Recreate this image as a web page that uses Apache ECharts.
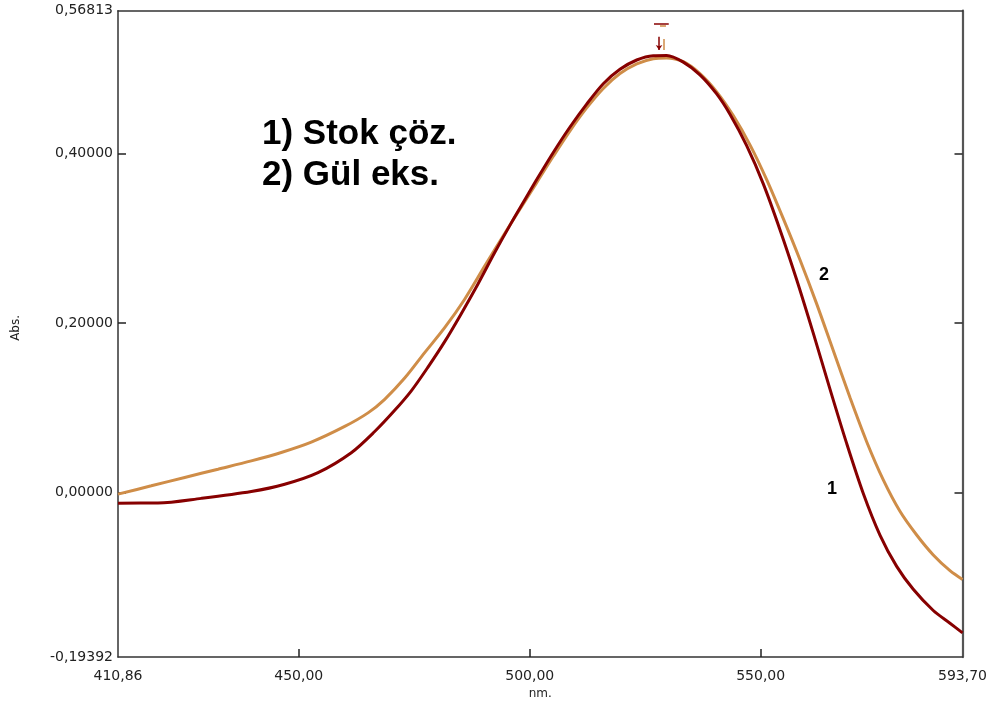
<!DOCTYPE html>
<html>
<head>
<meta charset="utf-8">
<script src="https://cdn.jsdelivr.net/npm/echarts@6/dist/echarts.min.js"></script>
<style>
  html, body { margin: 0; padding: 0; background: #fff; }
  #chart { width: 992px; height: 705px; }
</style>
</head>
<body>
<div id="chart"></div>
<script>
// Absorbance spectra: 1) stock solution, 2) rose extract
const wavelength1 = [410.86, 419.52, 428.89, 439.72, 446.95, 454.16, 461.37, 466.44, 470.77, 474.36,
  477.98, 481.59, 485.18, 488.80, 492.42, 496.01, 498.91, 501.51, 505.10, 508.72,
  512.33, 515.93, 519.54, 523.16, 526.75, 529.65, 533.25, 536.86, 540.48, 543.36,
  546.97, 550.57, 554.18, 557.80, 561.39, 565.01, 568.62, 572.22, 575.83, 579.45,
  583.04, 587.37, 590.99, 593.70];
const absStock = [-0.0124, -0.0122, -0.0068, 0.0012, 0.0098, 0.0235, 0.0470, 0.0720, 0.0970, 0.1200,
  0.1480, 0.1780, 0.2110, 0.2460, 0.2830, 0.3180, 0.3450, 0.3690, 0.4010, 0.4310,
  0.4580, 0.4820, 0.4990, 0.5100, 0.5150, 0.5153, 0.5075, 0.4925, 0.4700, 0.4460,
  0.4090, 0.3640, 0.3100, 0.2510, 0.1880, 0.1220, 0.0580, -0.0010, -0.0500, -0.0870,
  -0.1140, -0.1390, -0.1540, -0.1653];

const wavelength2 = [410.86, 418.07, 425.30, 432.51, 439.72, 446.21, 452.71, 459.94, 464.99, 468.60,
  472.93, 477.26, 481.59, 485.92, 490.25, 494.58, 498.91, 501.51, 505.10, 508.72,
  512.33, 515.93, 519.54, 523.16, 526.75, 529.65, 533.25, 536.86, 540.48, 544.07,
  547.69, 551.30, 554.90, 558.51, 562.13, 565.72, 569.34, 572.95, 576.55, 580.16,
  583.78, 587.37, 590.99, 593.70];
const absRose = [-0.0018, 0.0080, 0.0179, 0.0276, 0.0374, 0.0473, 0.0595, 0.0780, 0.0940, 0.1100,
  0.1350, 0.1650, 0.1944, 0.2280, 0.2670, 0.3055, 0.3430, 0.3655, 0.3965, 0.4265,
  0.4535, 0.4765, 0.4940, 0.5055, 0.5115, 0.5125, 0.5080, 0.4940, 0.4725, 0.4445,
  0.4100, 0.3690, 0.3230, 0.2745, 0.2225, 0.1675, 0.1120, 0.0600, 0.0150, -0.0220,
  -0.0500, -0.0735, -0.0920, -0.1024];

// Axis range and tick labels
const xMin = 410.86, xMax = 593.70;
const yMin = -0.19392, yMax = 0.56813;
const xTickLabels = [410.86, 450, 500, 550, 593.70];
const xTicks = [450, 500, 550];
const yTickLabels = [-0.19392, 0, 0.2, 0.4, 0.56813];
const yTicks = [0, 0.2, 0.4];

// Peak pick markers (wavelength, absorbance)
const peakStock = { x: 528.0, top: 0.5375, bottom: 0.5219, flagLeft: 526.9, flagRight: 530.1, flagY: 0.5525 };
const peakRose = { x: 529.1, top: 0.5348, bottom: 0.5219, flagLeft: 528.2, flagRight: 529.5, flagY: 0.5501 };

const redColor = '#870000';
const orangeColor = '#CF8D48';
const labelFont = 'DejaVu Sans';
const noteFont = '"Liberation Sans", Arial, sans-serif';

const zip = (xs, ys) => xs.map((x, i) => [x, ys[i]]);
const comma = (v, d) => v.toFixed(d).replace('.', ',');

function peakLines(p) {
  return [
    [{ coord: [p.x, p.top] }, { coord: [p.x, p.bottom] }],
    [{ coord: [p.flagLeft, p.flagY], symbol: 'none' }, { coord: [p.flagRight, p.flagY], symbol: 'none' }]
  ];
}

const chart = echarts.init(document.getElementById('chart'), null, { renderer: 'canvas' });

const frameLine = { show: true, onZero: false, lineStyle: { color: '#333', width: 1.5 } };
const tickStyle = { color: '#222', width: 1.5 };

chart.setOption({
  animation: false,
  backgroundColor: '#fff',
  grid: { left: 118, right: 29.5, top: 10.7, bottom: 46.7, containLabel: false },
  xAxis: [
    {
      type: 'value', position: 'bottom', min: xMin, max: xMax,
      name: 'nm.', nameLocation: 'middle', nameGap: 30,
      nameTextStyle: { fontFamily: labelFont, fontSize: 12, color: '#222' },
      axisLine: frameLine,
      axisTick: { show: true, inside: true, length: 8, customValues: xTicks, lineStyle: tickStyle },
      axisLabel: {
        customValues: xTickLabels, margin: 12,
        fontFamily: labelFont, fontSize: 14, color: '#222',
        formatter: v => comma(v, 2)
      },
      splitLine: { show: false }
    },
    {
      type: 'value', position: 'top', min: xMin, max: xMax,
      axisLine: frameLine, axisTick: { show: false }, axisLabel: { show: false }, splitLine: { show: false }
    }
  ],
  yAxis: [
    {
      type: 'value', position: 'left', min: yMin, max: yMax,
      name: 'Abs.', nameLocation: 'middle', nameGap: 96, nameRotate: 90,
      nameTextStyle: { fontFamily: labelFont, fontSize: 12, color: '#222', padding: [0, 0, 0, 12] },
      axisLine: frameLine,
      axisTick: { show: true, inside: true, length: 8, customValues: yTicks, lineStyle: tickStyle },
      axisLabel: {
        customValues: yTickLabels, margin: 5,
        fontFamily: labelFont, fontSize: 14, color: '#222',
        formatter: v => comma(v, 5)
      },
      splitLine: { show: false }
    },
    {
      type: 'value', position: 'right', min: yMin, max: yMax,
      axisLine: { show: true, onZero: false, lineStyle: { color: '#555', width: 2.2 } },
      axisTick: { show: true, inside: true, length: 8, customValues: yTicks, lineStyle: tickStyle },
      axisLabel: { show: false }, splitLine: { show: false }
    }
  ],
  series: [
    {
      name: '2', type: 'line', data: zip(wavelength2, absRose),
      showSymbol: false, smooth: 0.3,
      lineStyle: { color: orangeColor, width: 3 },
      markLine: {
        silent: true, symbol: ['none', 'none'], label: { show: false },
        lineStyle: { color: orangeColor, width: 1.5, type: 'solid' },
        data: peakLines(peakRose)
      }
    },
    {
      name: '1', type: 'line', data: zip(wavelength1, absStock),
      showSymbol: false, smooth: 0.3,
      lineStyle: { color: redColor, width: 3 },
      markLine: {
        silent: true, symbol: ['none', 'arrow'], symbolSize: 5, label: { show: false },
        lineStyle: { color: redColor, width: 1.5, type: 'solid' },
        data: peakLines(peakStock)
      }
    }
  ],
  graphic: [
    { type: 'text', left: 262, top: 117, style: { text: '1) Stok çöz.', font: 'bold 35px ' + noteFont, fill: '#000' } },
    { type: 'text', left: 262, top: 158, style: { text: '2) Gül eks.', font: 'bold 35px ' + noteFont, fill: '#000' } },
    { type: 'text', left: 819, top: 266, style: { text: '2', font: 'bold 18px ' + noteFont, fill: '#000' } },
    { type: 'text', left: 827, top: 480, style: { text: '1', font: 'bold 18px ' + noteFont, fill: '#000' } }
  ]
});
</script>
</body>
</html>
